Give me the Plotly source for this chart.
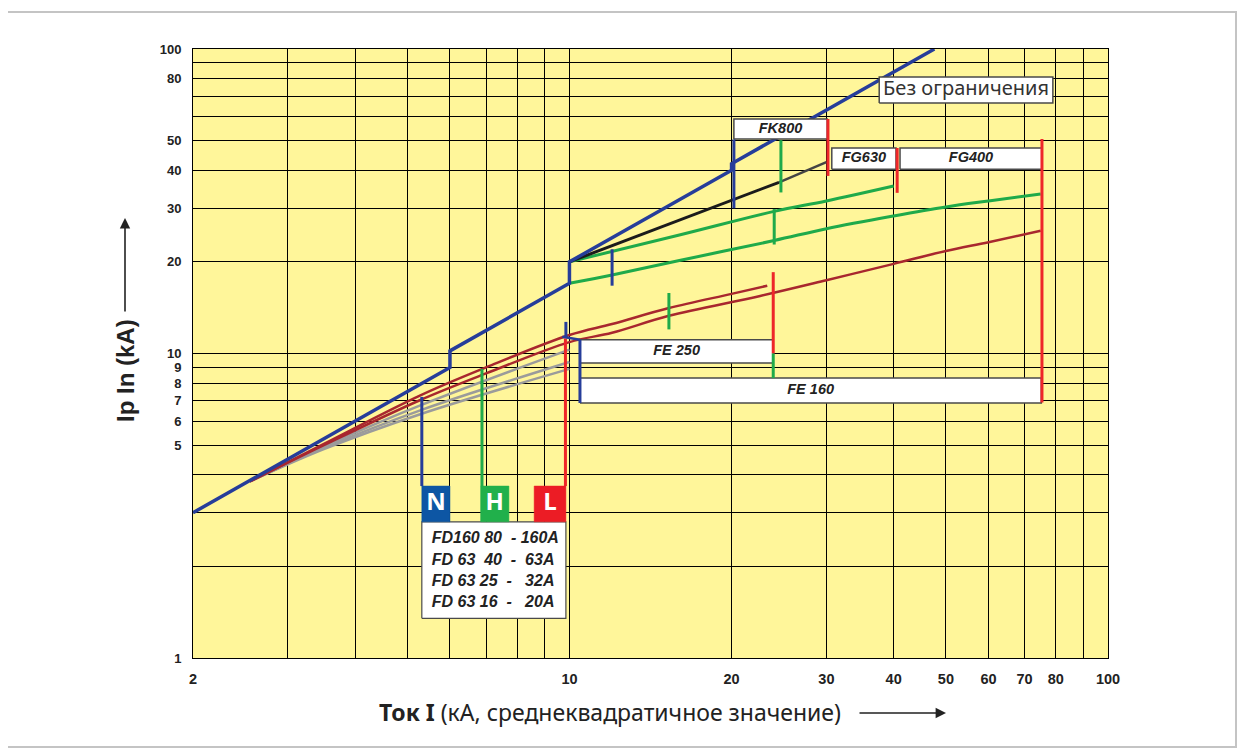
import math
import plotly.graph_objects as go

# ---------------- data ----------------
# unlimited peak current ("Без ограничения")
unl_x = [2, 6, 6, 10, 10, 20, 20, 47.6]
unl_y = [3.0, 9.0, 10.2, 17.0, 20.0, 40.0, 42.0, 100.0]

# FK800 (black)
fk_x = [10, 15, 20, 24.5]
fk_y = [20, 26.3, 32, 36.5]
fk_tail_x = [24.5, 30]
fk_tail_y = [36.5, 42.5]

# FG630 (green, upper)
fg630_x = [10, 16, 24, 30, 40]
fg630_y = [20, 24.5, 29.3, 31.7, 35.5]

# FG400 (green, lower)
fg400_x = [10, 12, 16, 24, 30, 40, 50, 60, 75]
fg400_y = [17, 18.1, 20.2, 23.5, 25.7, 28.3, 30.3, 31.7, 33.4]

# FE 250 (brown, upper)
fe250_x = [2.55, 3.5, 5.3, 7, 10, 12, 15.3, 20, 23.3]
fe250_y = [3.8, 5.05, 7.3, 9.0, 11.5, 12.5, 14.1, 15.7, 16.7]

# FE 160 (brown, lower)
fe160_x = [2.55, 3.5, 5.3, 7, 10, 12, 15.3, 22.6, 30, 40, 50, 60, 75]
fe160_y = [3.8, 5.0, 7.05, 8.6, 10.9, 11.7, 13.3, 15.45, 17.4, 19.7, 21.7, 23.2, 25.3]

# FD curves (gray)
fd_x = [2.55, 3.5, 5.3, 10]
fd1_y = [3.8, 4.95, 6.77, 10.3]
fd2_y = [3.8, 4.9, 6.52, 9.38]
fd3_y = [3.8, 4.85, 6.33, 8.9]

# vertical markers: x, low, high, colour key
mark_x = [12, 15.3, 23.9, 23.9, 24.0, 20.2, 24.7, 30.2, 40.6, 75.4, 5.32, 6.88, 9.83, 9.85, 10.46]
mark_lo = [16.7, 12.0, 10.0, 8.3, 22.8, 30.0, 33.8, 38.3, 33.7, 6.9, 3.67, 3.67, 3.67, 11.3, 6.88]
mark_hi = [22.0, 15.8, 18.5, 10.0, 29.8, 50.5, 50.2, 58.9, 47.3, 50.6, 7.2, 8.9, 11.2, 12.7, 11.1]
mark_c = ['b', 'g', 'r', 'g', 'g', 'b', 'g', 'r', 'r', 'r', 'b', 'g', 'r', 'b', 'b']

# label boxes
box_names = ['Без ограничения', 'FK800', 'FG630', 'FG400', 'FE 250', 'FE 160']
box_x0 = [37.6, 20.2, 30.7, 41.1, 10.46, 10.46]
box_x1 = [79.0, 30.1, 40.4, 75.4, 23.9, 75.2]
box_y0 = [66.5, 50.6, 40.3, 40.3, 9.3, 6.88]
box_y1 = [80.9, 58.9, 47.3, 47.3, 11.1, 8.31]

# N / H / L tags
tag_names = ['N', 'H', 'L']
tag_x0 = [5.32, 6.84, 8.6]
tag_x1 = [6.0, 7.72, 9.85]
tag_y0 = [2.80, 2.80, 2.80]
tag_y1 = [3.67, 3.67, 3.67]

# FD legend
legend_box = [5.32, 9.85, 1.35, 2.80]
legend_lines = ['FD160 80  - 160A', 'FD 63  40  -  63A', 'FD 63 25  -   32A', 'FD 63 16  -   20A']
legend_y = [2.46, 2.08, 1.78, 1.52]
legend_x = 5.55

# axes ticks
x_ticks = [2, 3, 4, 5, 6, 7, 8, 9, 10, 20, 30, 40, 50, 60, 70, 80, 90, 100]
x_text = ['2', '', '', '', '', '', '', '', '10', '20', '30', '40', '50', '60', '70', '80', '', '100']
y_ticks = [1, 2, 3, 4, 5, 6, 7, 8, 9, 10, 20, 30, 40, 50, 60, 70, 80, 90, 100]
y_text = ['1', '', '', '', '5', '6', '7', '8', '9', '10', '20', '30', '40', '50', '', '', '80', '', '100']

# ---------------- styles ----------------
BLUE = '#263d9a'
GREEN = '#1faa4a'
BROWN = '#a8272e'
GRAY = '#9b9b9b'
RED = '#ee2629'
BLACK = '#1b1b1b'
COL = {'b': BLUE, 'g': GREEN, 'r': RED}
TAGCOL = {'N': '#0d56a4', 'H': '#21b04b', 'L': '#ec1c25'}
BOLDFONT = 'Liberation Sans Narrow, Liberation Sans, Arial, sans-serif'

fig = go.Figure()


def line(x, y, color, width, shape='linear'):
    fig.add_trace(go.Scatter(x=x, y=y, mode='lines', hoverinfo='skip',
                             line=dict(color=color, width=width, shape=shape)))


# gray FD curves
for yy in (fd3_y, fd2_y, fd1_y):
    line(fd_x, yy, GRAY, 2.5, 'spline')
# brown FE curves
line(fe160_x, fe160_y, BROWN, 2.5, 'spline')
line(fe250_x, fe250_y, BROWN, 2.5, 'spline')
# green FG curves
line(fg400_x, fg400_y, GREEN, 3, 'spline')
line(fg630_x, fg630_y, GREEN, 3, 'spline')
# black FK curve
line(fk_x, fk_y, BLACK, 3)
line(fk_tail_x, fk_tail_y, '#444444', 2.5)
# blue unlimited line
line(unl_x, unl_y, BLUE, 3.5)


def rect(x0, x1, y0, y1, fill, border, bw):
    fig.add_trace(go.Scatter(x=[x0, x1, x1, x0, x0], y=[y0, y0, y1, y1, y0],
                             mode='lines', fill='toself', fillcolor=fill,
                             line=dict(color=border, width=bw), hoverinfo='skip'))


for i, name in enumerate(box_names):
    rect(box_x0[i], box_x1[i], box_y0[i], box_y1[i], 'white', '#4a4a4a', 1.5)

rect(legend_box[0], legend_box[1], legend_box[2], legend_box[3], 'white', '#4a4a4a', 1.2)

# vertical markers
for x, lo, hi, c in zip(mark_x, mark_lo, mark_hi, mark_c):
    line([x, x], [lo, hi], COL[c], 3)
# small blue tick joining FE box
line([9.7, 10.46], [11.35, 11.1], BLUE, 2.5)

for i, name in enumerate(tag_names):
    rect(tag_x0[i], tag_x1[i], tag_y0[i], tag_y1[i], TAGCOL[name], TAGCOL[name], 0.5)


def gmean(a, b):
    return math.sqrt(a * b)


# box labels
for i, name in enumerate(box_names):
    if i == 0:
        txt = name
        font = dict(family='Noto Sans, DejaVu Sans, sans-serif', size=20, color='#333333')
    else:
        txt = '<b><i>' + name + '</i></b>'
        font = dict(family='Liberation Sans, Arial, sans-serif', size=14.5, color='#222222')
    fig.add_trace(go.Scatter(x=[gmean(box_x0[i], box_x1[i])], y=[gmean(box_y0[i], box_y1[i])],
                             mode='text', text=[txt], textposition='middle center',
                             textfont=font, hoverinfo='skip'))

for i, name in enumerate(tag_names):
    fig.add_trace(go.Scatter(x=[gmean(tag_x0[i], tag_x1[i])], y=[gmean(tag_y0[i], tag_y1[i])],
                             mode='text', text=['<b>' + name + '</b>'], textposition='middle center',
                             textfont=dict(family='Open Sans, Noto Sans, sans-serif', size=24, color='white'),
                             hoverinfo='skip'))

fig.add_trace(go.Scatter(x=[legend_x] * len(legend_lines), y=legend_y, mode='text',
                         text=['<b><i>' + t.replace(' ', '\u00a0') + '</i></b>' for t in legend_lines],
                         textposition='middle right',
                         textfont=dict(family='Liberation Sans, Arial, sans-serif', size=16, color='#222222'),
                         hoverinfo='skip'))

# ---------------- layout ----------------
OFF = 8                      # page body margin
L, T = 193 - OFF, 49 - OFF   # plot-area left/top inside the figure
PW, PH = 915, 609
W, H = 1245 - 2 * OFF, 756 - 2 * OFF
R, B = W - L - PW, H - T - PH


def px(x):
    return (x - OFF - L) / PW


def py(y):
    return (OFF + T + PH - y) / PH


axis_common = dict(type='log', showgrid=True, gridcolor='black', gridwidth=1,
                   showline=True, linecolor='black', linewidth=1, mirror=True,
                   zeroline=False, ticks='', ticklabelstandoff=8, automargin=False,
                   tickfont=dict(family=BOLDFONT, size=13, color='#222222', weight='bold'))

fig.update_layout(
    width=W, height=H,
    margin=dict(l=L, r=R, t=T, b=B),
    paper_bgcolor='white', plot_bgcolor='#fff69a',
    showlegend=False,
    xaxis=dict(range=[math.log10(2), 2], tickmode='array', tickvals=x_ticks, ticktext=x_text,
               **axis_common),
    yaxis=dict(range=[0, 2], tickmode='array', tickvals=y_ticks, ticktext=y_text,
               **axis_common),
)
fig.update_xaxes(tickfont_size=14.5)

# titles and arrows
fig.add_annotation(xref='paper', yref='paper', x=px(610), y=py(712), xanchor='center', yanchor='middle',
                   showarrow=False,
                   text='<b>Ток I</b> (кА, среднеквадратичное значение)',
                   font=dict(family='Noto Sans, DejaVu Sans, sans-serif', size=23, color='#222222'))
fig.add_annotation(xref='paper', yref='paper', x=px(946), y=py(713), ax=-88, ay=0,
                   showarrow=True, arrowhead=2, arrowsize=1.3, arrowwidth=1.6, arrowcolor='#222222', text='')
fig.add_annotation(xref='paper', yref='paper', x=px(125), y=py(371), xanchor='center', yanchor='middle',
                   showarrow=False, textangle=-90,
                   text='<b>Ip In (kA)</b>',
                   font=dict(family='Liberation Sans Narrow, Liberation Sans, sans-serif', size=24, color='#222222'))
fig.add_annotation(xref='paper', yref='paper', x=px(125), y=py(218), ax=0, ay=95,
                   showarrow=True, arrowhead=2, arrowsize=1.3, arrowwidth=1.6, arrowcolor='#222222', text='')

# outer frame
fig.add_shape(type='rect', xref='paper', yref='paper', x0=px(6), x1=px(1236), y0=py(12), y1=py(747),
              line=dict(color='#c4c4c4', width=2), fillcolor='rgba(0,0,0,0)', layer='below')

fig.write_html('out.html')
